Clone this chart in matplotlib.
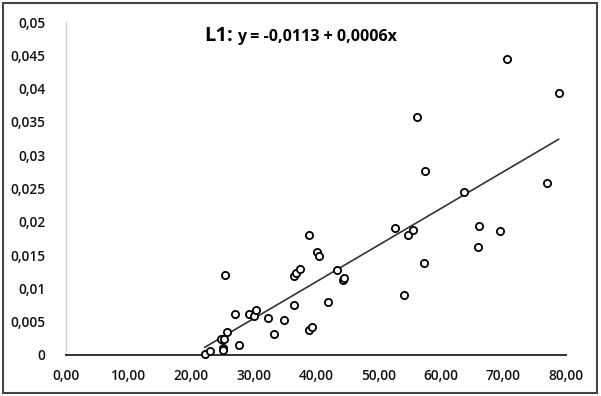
import matplotlib.pyplot as plt
import numpy as np
from matplotlib.patches import Rectangle
from matplotlib.ticker import FuncFormatter

# Veriler
x_vals = [22.2, 23.0, 25.1, 25.1, 24.75, 25.3, 25.8, 25.5, 27.0, 27.6,
          29.3, 30.0, 30.45, 32.3, 33.3, 34.9, 36.5, 36.5, 36.8, 37.4,
          38.8, 40.2, 40.5, 38.8, 39.4, 41.9, 43.3, 44.3, 44.5, 52.6,
          54.1, 54.7, 55.5, 57.3, 66.1, 65.9, 69.4, 70.6, 78.8, 56.1,
          57.5, 63.6, 76.9]
y_vals = [0.00015, 0.0006, 0.0011, 0.0008, 0.0024, 0.0024, 0.0035, 0.012, 0.0062, 0.0015,
          0.0061, 0.0059, 0.0068, 0.0055, 0.0031, 0.0053, 0.0075, 0.0119, 0.0123, 0.0129,
          0.018, 0.0154, 0.0149, 0.0037, 0.0042, 0.0079, 0.0127, 0.0112, 0.0116, 0.0191,
          0.009, 0.018, 0.0188, 0.0138, 0.0193, 0.0162, 0.0186, 0.0444, 0.0394, 0.0357,
          0.0276, 0.0245, 0.0259]

x_ticks = [0, 10, 20, 30, 40, 50, 60, 70, 80]
y_ticks = [0, 0.005, 0.01, 0.015, 0.02, 0.025, 0.03, 0.035, 0.04, 0.045, 0.05]

fig = plt.figure(figsize=(6.01, 3.96), dpi=100)
ax = fig.add_axes([66/601, 41/396, 500/601, 333/396])

ax.scatter(x_vals, y_vals, s=27, facecolors='white', edgecolors='black',
           linewidths=1.3, zorder=3, clip_on=False)

# Trend çizgisi
slope, intercept = np.polyfit(x_vals, y_vals, 1)
xl = np.array([min(x_vals), max(x_vals)])
ax.plot(xl, intercept + slope * xl, color='#333333', linewidth=1.2, zorder=2)

ax.set_xlim(0, 80)
ax.set_ylim(0, 0.05)
ax.set_xticks(x_ticks)
ax.set_yticks(y_ticks)

def fmt_x(v, pos):
    return f"{v:.2f}".replace('.', ',')

def fmt_y(v, pos):
    if v == 0:
        return "0"
    return f"{v:.3f}".rstrip('0').replace('.', ',')

ax.xaxis.set_major_formatter(FuncFormatter(fmt_x))
ax.yaxis.set_major_formatter(FuncFormatter(fmt_y))

for lab in ax.get_xticklabels() + ax.get_yticklabels():
    lab.set_family('Open Sans')
    lab.set_fontweight('semibold')
    lab.set_fontsize(9.8)
    lab.set_color('#111111')

ax.tick_params(axis='both', length=0)
ax.tick_params(axis='y', pad=15)
ax.tick_params(axis='x', pad=10)

ax.spines['top'].set_visible(False)
ax.spines['right'].set_visible(False)
ax.spines['left'].set_color('#d0d0d0')
ax.spines['left'].set_linewidth(1.0)
ax.spines['bottom'].set_color('#222222')
ax.spines['bottom'].set_linewidth(1.3)

# Başlık
fig.text(204/601, 1 - 41/396, "L1:", family='Open Sans', fontweight='bold',
         fontsize=14.5, va='baseline', ha='left', color='black')
fig.text(237/601, 1 - 41/396, "y = -0,0113 + 0,0006x", family='Open Sans',
         fontweight='bold', fontsize=11.5, va='baseline', ha='left', color='black')

# Çerçeve
fig.patches.append(Rectangle((3/601, 3/396), 594/601, 390/396, transform=fig.transFigure,
                             fill=False, edgecolor='#444444', linewidth=1.5))

fig.savefig('out.png', dpi=100)
